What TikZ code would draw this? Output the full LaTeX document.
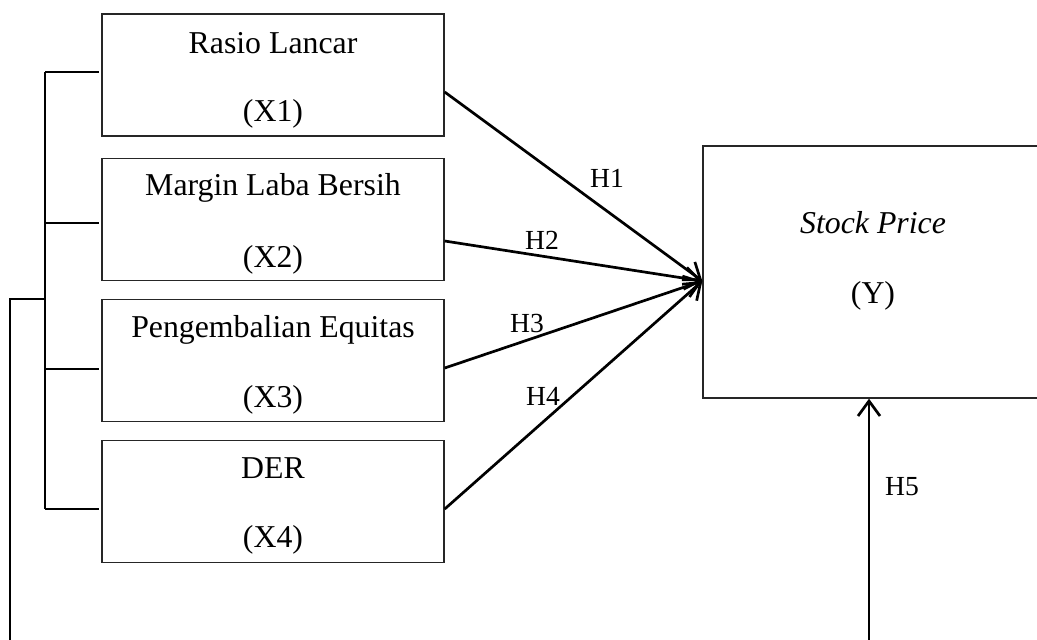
\documentclass[tikz,border=0pt]{standalone}
\usepackage{fontspec}
\setmainfont{Liberation Serif}
\usetikzlibrary{arrows.meta}
\begin{document}
\begin{tikzpicture}[x=0.5pt,y=-0.5pt,
  boxnode/.style={draw=black!85,line width=0.7pt,minimum width=171pt,minimum height=61pt,inner sep=0pt},
  txt/.style={anchor=base,inner sep=0pt,font=\fontsize{15.9}{18}\selectfont},
  hlab/.style={anchor=base,inner sep=0pt,font=\fontsize{13.8}{16}\selectfont},
  conn/.style={line width=1.35pt},
  arr/.style={conn,-{Straight Barb[length=7.5pt,width=11pt,line width=1.35pt]}}]
\clip (0,0) rectangle (1037,639);
\useasboundingbox (0,0) rectangle (1037,639);
% boxes
\node[boxnode] (x1) at (273,75) {};
\node[boxnode] (x2) at (273,219.5) {};
\node[boxnode] (x3) at (273,360.5) {};
\node[boxnode] (x4) at (273,501.5) {};
\node[draw=black!85,line width=0.7pt,minimum width=168.5pt,minimum height=126pt,inner sep=0pt] (y) at (871.5,272) {};
% texts
\node[txt] (x1a) at (273,53) {Rasio Lancar};
\node[txt] (x1b) at (273,121) {(X1)};
\node[txt] (x2a) at (273,195) {Margin Laba Bersih};
\node[txt] (x2b) at (273,267) {(X2)};
\node[txt] (x3a) at (273,337) {Pengembalian Equitas};
\node[txt] (x3b) at (273,407) {(X3)};
\node[txt] (x4a) at (273,478) {DER};
\node[txt] (x4b) at (273,547) {(X4)};
\node[txt] (ya) at (873,233) {\itshape Stock Price};
\node[txt] (yb) at (873,303) {(Y)};
% hypothesis labels
\node[hlab] (h1) at (607,187) {H1};
\node[hlab] (h2) at (542,249) {H2};
\node[hlab] (h3) at (527,332) {H3};
\node[hlab] (h4) at (543,405) {H4};
\node[hlab] (h5) at (902,495) {H5};
% target
\coordinate (tgt) at ([yshift=-4.5pt]y.west);
% arrows
\draw[arr] ([yshift=-8.5pt]x1.east) -- (tgt);
\draw[arr] ([yshift=-10.75pt]x2.east) -- (tgt);
\draw[arr] ([yshift=-3.75pt]x3.east) -- (tgt);
\draw[arr] ([yshift=-3.75pt]x4.east) -- (tgt);
% bracket
\coordinate (b1) at (45,72);
\coordinate (b4) at (45,509);
\coordinate (bj) at (45,299);
\coordinate (lt) at (10,299);
\coordinate (lb) at (10,650);
\coordinate (h5b) at (869,650);
\draw[conn] (b1) -- (b4);
\draw[conn] (b1) -- ([xshift=-1pt,yshift=1.5pt]x1.west);
\draw[conn] (45,223) -- ([xshift=-1pt,yshift=-1.75pt]x2.west);
\draw[conn] (45,369) -- ([xshift=-1pt,yshift=-4.25pt]x3.west);
\draw[conn] (b4) -- ([xshift=-1pt,yshift=-3.75pt]x4.west);
\draw[conn] (bj) -- (lt) -- (lb);
\draw[arr] (h5b) -- ([xshift=-1.25pt]y.south);
\end{tikzpicture}
\end{document}
